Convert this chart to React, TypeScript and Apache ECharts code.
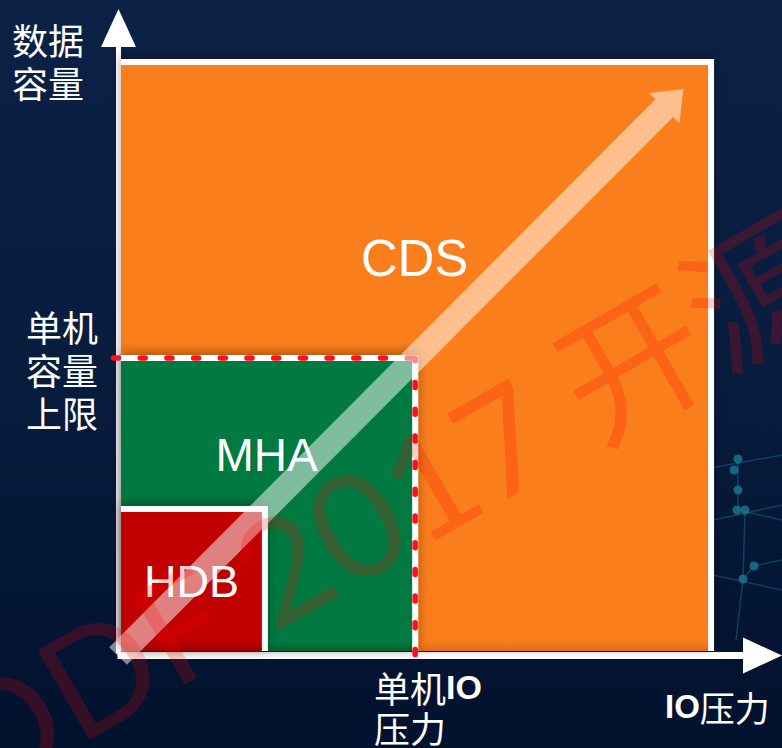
import React, { useEffect, useRef } from 'react';
import * as echarts from 'echarts';

// ---- data ----
const systems = ['HDB', 'MHA', 'CDS'];
const ioPressureLimit = [24.0, 49.6, 100];      // x extent of each system (IO pressure)
const dataCapacityLimit = [23.7, 49.5, 100];    // y extent of each system (data capacity)
const systemColors = ['#c10000', '#007a40', '#fb7e1c'];
const systemShade = ['#9a0000', '#00612f', '#e06a12'];
const singleNode = [49.6, 49.5];               // single-node IO / capacity limit
const growthStart = [-0.5, -0.85];
const growthEnd = [95.8, 95.9];
const yAxisName = '数据\n容量';
const yLimitLabel = '单机\n容量\n上限';

// ---- styles ----
const labelSizes = [45, 46, 51];
const labelYFrac = [0.5, 0.675, 0.67];
const CJK = '"Noto Sans CJK SC", "Noto Sans", sans-serif';
const LATIN = '"Liberation Sans", Arial, sans-serif';

export default function App() {
  const ref = useRef<HTMLDivElement>(null);
  useEffect(() => {
    document.body.style.margin = '0';
    const chart = echarts.init(ref.current!, null, { renderer: 'svg' });
    const order = [2, 1, 0];
    const boxData = order.map((i) => [ioPressureLimit[i], dataCapacityLimit[i], i]);
    const B = 6;

    const option: any = {
      animation: false,
      grid: { left: 121, top: 47, width: 624, height: 604, containLabel: false },
      xAxis: {
        type: 'value', min: 0, max: 106.3, offset: 4.5,
        axisLine: {
          show: true, onZero: false,
          lineStyle: { color: '#ffffff', width: 7, cap: 'square' },
          symbol: ['none', 'triangle'], symbolSize: [36, 39], symbolOffset: [0, 17.5],
        },
        axisTick: { show: false }, axisLabel: { show: false }, splitLine: { show: false },
      },
      yAxis: {
        type: 'value', min: 0, max: 103.07, offset: 2.5,
        axisLine: {
          show: true, onZero: false,
          lineStyle: { color: '#ffffff', width: 5, cap: 'square' },
          symbol: ['none', 'triangle'], symbolSize: [35, 38], symbolOffset: [0, 19],
        },
        axisTick: { show: false }, axisLabel: { show: false }, splitLine: { show: false },
      },
      graphic: [
        {
          type: 'rect', z: -10, silent: true,
          shape: { x: 0, y: 0, width: 782, height: 748 },
          style: {
            fill: new echarts.graphic.LinearGradient(0, 0, 0, 1, [
              { offset: 0, color: '#0c2146' },
              { offset: 0.5, color: '#081c3e' },
              { offset: 1, color: '#01122e' },
            ]),
          },
        },
        // network decoration
        ...[
          [[700, 470], [782, 455]], [[738, 459], [738, 510]], [[745, 510], [743, 579]],
          [[743, 579], [754, 566]], [[713, 520], [782, 505]], [[713, 575], [782, 590]],
          [[738, 510], [782, 520]], [[754, 566], [782, 560]], [[743, 579], [736, 640]],
        ].map((l) => ({
          type: 'line', z: -9, silent: true,
          shape: { x1: l[0][0], y1: l[0][1], x2: l[1][0], y2: l[1][1] },
          style: { stroke: 'rgba(40,140,170,0.35)', lineWidth: 1.5 },
        })),
        ...[[738, 459], [734, 470], [738, 490], [737, 510], [745, 510], [754, 566], [743, 579]].map((p) => ({
          type: 'circle', z: -9, silent: true,
          shape: { cx: p[0], cy: p[1], r: 4.5 },
          style: { fill: 'rgba(30,120,145,0.8)' },
        })),
        {
          type: 'text', z: 20, x: 12, y: 17,
          style: { text: yAxisName, font: `36px ${CJK}`, fill: '#fff', lineHeight: 43, verticalAlign: 'top' },
        },
        {
          type: 'text', z: 20, x: 26, y: 304,
          style: { text: yLimitLabel, font: `36px ${CJK}`, fill: '#fff', lineHeight: 43, verticalAlign: 'top' },
        },
        {
          type: 'text', z: 20, x: 374, y: 667,
          style: {
            text: '{a|单机}{b|IO}\n{a|压力}', verticalAlign: 'top',
            rich: {
              a: { fontSize: 36, fontFamily: CJK, fill: '#fff', lineHeight: 40 },
              b: { fontSize: 34, fontFamily: LATIN, fontWeight: 'bold', fill: '#fff', lineHeight: 40 },
            },
          },
        },
        {
          type: 'text', z: 20, x: 665, y: 686,
          style: {
            text: '{b|IO}{a|压力}', verticalAlign: 'top',
            rich: {
              a: { fontSize: 35, fontFamily: CJK, fill: '#fff', lineHeight: 40 },
              b: { fontSize: 33, fontFamily: LATIN, fontWeight: 'bold', fill: '#fff', lineHeight: 40 },
            },
          },
        },
        {
          type: 'text', z: 15, x: 385, y: 505, rotation: Math.PI / 6, silent: true,
          style: {
            text: 'ODF 2017 开源', fontSize: 145, fontWeight: 'normal',
            fontFamily: 'Lato, "Noto Sans CJK SC", sans-serif', fill: 'rgba(255,0,0,0.2)',
            align: 'center', verticalAlign: 'middle',
          },
        },
      ],
      series: [
        {
          type: 'custom', name: 'systems', z: 2,
          data: boxData,
          renderItem: (params: any, api: any) => {
            const x1 = api.value(0), y1 = api.value(1), idx = api.value(2);
            const o = api.coord([0, 0]);
            const c = api.coord([x1, y1]);
            const w = c[0] - o[0], h = o[1] - c[1];
            const shadeStart = Math.max(0, 1 - 10 / h);
            return {
              type: 'group',
              children: [
                {
                  type: 'rect',
                  shape: { x: o[0], y: c[1] - B, width: w + B, height: h + B },
                  style: { fill: '#ffffff', shadowBlur: 12, shadowColor: 'rgba(0,0,0,0.35)', shadowOffsetY: -3 },
                },
                {
                  type: 'rect',
                  shape: { x: o[0], y: c[1], width: w, height: h },
                  style: {
                    fill: new echarts.graphic.LinearGradient(0, 0, 0, 1, [
                      { offset: 0, color: systemColors[idx] },
                      { offset: shadeStart, color: systemColors[idx] },
                      { offset: 1, color: systemShade[idx] },
                    ]),
                  },
                },
              ],
            };
          },
        },
        {
          type: 'custom', name: 'single-node limit', z: 3,
          data: [singleNode],
          renderItem: (params: any, api: any) => {
            const p = api.coord([api.value(0), api.value(1)]);
            const o = api.coord([0, 0]);
            const gy = p[1] - B / 2, gx = p[0] + B / 2;
            const st = { stroke: '#ff1020', lineWidth: 5.5, lineDash: [5, 21.7], lineCap: 'round' };
            return {
              type: 'group',
              children: [
                { type: 'line', shape: { x1: o[0] - 7.5, y1: gy, x2: gx, y2: gy }, style: st },
                { type: 'line', shape: { x1: gx, y1: o[1] + 3.5, x2: gx, y2: gy }, style: st },
              ],
            };
          },
        },
        {
          type: 'custom', name: 'growth', z: 4,
          data: [[growthStart[0], growthStart[1], growthEnd[0], growthEnd[1]]],
          renderItem: (params: any, api: any) => {
            const p0 = api.coord([api.value(0), api.value(1)]);
            const p1 = api.coord([api.value(2), api.value(3)]);
            const dx = p1[0] - p0[0], dy = p1[1] - p0[1];
            const len = Math.sqrt(dx * dx + dy * dy);
            const ux = dx / len, uy = dy / len;
            const nx = -uy, ny = ux;
            const sw = 12.5, hw = 21.5, hl = 27;
            const sx = p1[0] - ux * hl, sy = p1[1] - uy * hl;
            const pts = [
              [p0[0] + nx * sw, p0[1] + ny * sw],
              [sx + nx * sw, sy + ny * sw],
              [sx + nx * hw, sy + ny * hw],
              [p1[0], p1[1]],
              [sx - nx * hw, sy - ny * hw],
              [sx - nx * sw, sy - ny * sw],
              [p0[0] - nx * sw, p0[1] - ny * sw],
            ];
            return { type: 'polygon', shape: { points: pts }, style: { fill: 'rgba(255,255,255,0.5)' } };
          },
        },
        {
          type: 'custom', name: 'labels', z: 5,
          data: boxData,
          renderItem: (params: any, api: any) => {
            const x1 = api.value(0), y1 = api.value(1), idx = api.value(2);
            const o = api.coord([0, 0]);
            const c = api.coord([x1, y1]);
            const w = c[0] - o[0], h = o[1] - c[1];
            return {
              type: 'text',
              style: {
                text: systems[idx], x: o[0] + w / 2, y: o[1] - h * labelYFrac[idx],
                font: `${labelSizes[idx]}px ${LATIN}`, fill: '#ffffff',
                align: 'center', verticalAlign: 'middle',
              },
            };
          },
        },
      ],
    };
    chart.setOption(option);
    return () => chart.dispose();
  }, []);
  return <div ref={ref} style={{ width: 782, height: 748, position: 'absolute', left: 0, top: 0 }} />;
}
